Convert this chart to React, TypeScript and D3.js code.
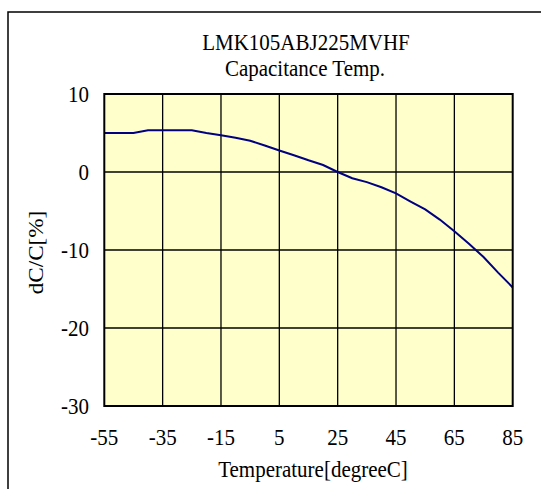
import React from "react";
import * as d3 from "d3";

const temps = [-55, -50, -45, -40, -35, -30, -25, -20, -15, -10, -5, 0, 5, 10, 15, 20, 25, 30, 35, 40, 45, 50, 55, 60, 65, 70, 75, 80, 85];
const dcc = [5.0, 5.0, 5.0, 5.35, 5.35, 5.35, 5.35, 5.0, 4.7, 4.4, 4.0, 3.4, 2.75, 2.15, 1.5, 0.9, 0.0, -0.8, -1.3, -1.95, -2.75, -3.8, -4.8, -6.1, -7.6, -9.2, -10.9, -12.9, -14.8];
const xTicks = [-55, -35, -15, 5, 25, 45, 65, 85];
const yTicks = [10, 0, -10, -20, -30];
const titleLines = ["LMK105ABJ225MVHF", "Capacitance Temp."];
const xLabel = "Temperature[degreeC]";
const yLabel = "dC/C[%]";

const W = 541, H = 489;
const L = 104.3, R = 512.7, T = 94, B = 406;
const FS = 21;
const SY = 1.1;

export default function App() {
  const x = d3.scaleLinear().domain([-55, 85]).range([L, R]);
  const y = d3.scaleLinear().domain([-30, 10]).range([B, T]);
  const line = d3.line<number>().x((_, i) => x(temps[i])).y((d) => y(d));
  const font = "'Liberation Serif', 'Times New Roman', serif";
  const txt = (s: string, tx: number, ty: number, anchor: string, rot = 0, key?: any) => (
    <text key={key} transform={`translate(${tx},${ty}) rotate(${rot}) scale(1,${SY})`} textAnchor={anchor as any} fontSize={FS} fontFamily={font} fill="#000">{s}</text>
  );
  return (
    <svg width={W} height={H} style={{ position: "absolute", left: 0, top: 0, background: "#fff" }}>
      <rect x={8} y={12} width={560} height={500} fill="#fff" stroke="#000" strokeWidth={1.5} />
      {txt(titleLines[0], 306, 49.5, "middle")}
      {txt(titleLines[1], 305, 75.5, "middle")}
      <rect x={L} y={T} width={R - L} height={B - T} fill="#FFFFCC" />
      {xTicks.slice(1, -1).map((t) => (
        <line key={"gx" + t} x1={x(t)} x2={x(t)} y1={T} y2={B} stroke="#000" strokeWidth={1.3} />
      ))}
      {yTicks.slice(1, -1).map((t) => (
        <line key={"gy" + t} x1={L} x2={R} y1={y(t)} y2={y(t)} stroke="#000" strokeWidth={1.3} />
      ))}
      <path d={line(dcc) || ""} fill="none" stroke="#000080" strokeWidth={2} />
      <rect x={L} y={T} width={R - L} height={B - T} fill="none" stroke="#000" strokeWidth={2} />
      {yTicks.map((t) => txt(String(t), 89, y(t) + 7.5, "end", 0, "yt" + t))}
      {xTicks.map((t) => txt(String(t), x(t), 445, "middle", 0, "xt" + t))}
      {txt(xLabel, 313, 476.5, "middle")}
      <text transform={`translate(43,252.5) rotate(-90) scale(${SY},1)`} textAnchor="middle" fontSize={FS} fontFamily={font} fill="#000">{yLabel}</text>
    </svg>
  );
}
